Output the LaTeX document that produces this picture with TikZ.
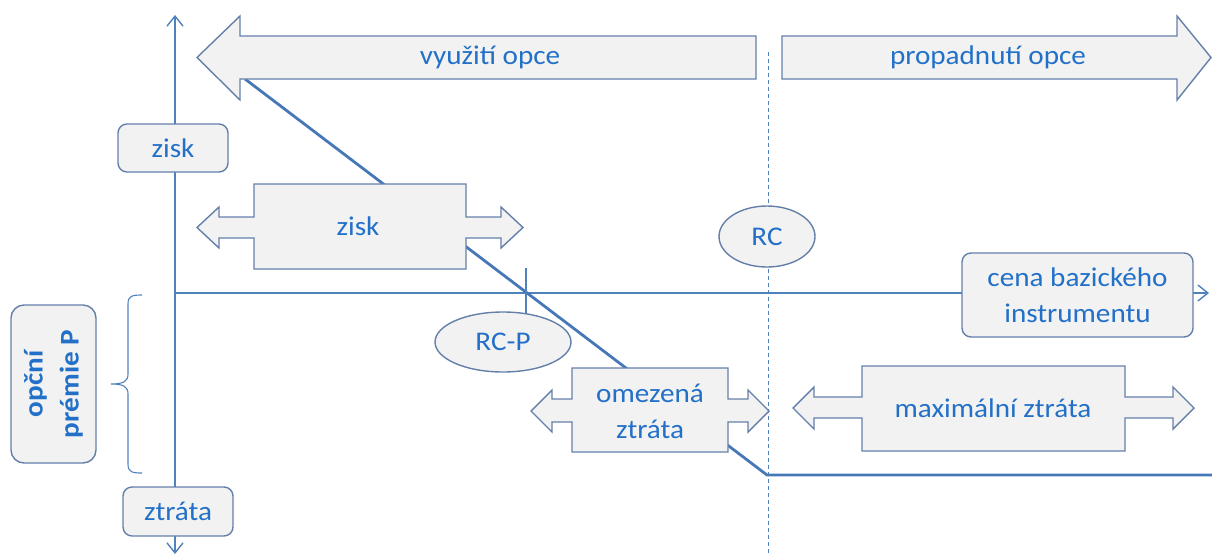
\documentclass[tikz,border=0pt]{standalone}
\usepackage{fontspec}
\setmainfont{Carlito}[FakeStretch=1.08]
\usetikzlibrary{arrows.meta,shapes.geometric}
\definecolor{txtblue}{RGB}{34,112,200}
\definecolor{bord}{RGB}{100,128,170}
\definecolor{boxfill}{RGB}{242,242,242}
\definecolor{axisblue}{RGB}{79,129,189}
\definecolor{payblue}{RGB}{70,120,184}
\begin{document}
\begin{tikzpicture}[x=1pt,y=-1pt,
  shapebox/.style={draw=bord, fill=boxfill, line width=1.4pt, line join=miter},
  lbl/.style={text=txtblue, font=\fontsize{27}{36}\selectfont, align=center, inner sep=0pt},
  rbox/.style={shapebox, rounded corners=9pt, text=txtblue, font=\fontsize{27}{36}\selectfont, align=center, inner sep=0pt},
  oval/.style={shapebox, ellipse, text=txtblue, font=\fontsize{27}{36}\selectfont, inner sep=0pt},
  axisline/.style={draw=axisblue, line width=1.4pt},
  axtip/.style={-{Straight Barb[length=10pt,width=16pt,line width=1.4pt]}},
  payoff/.style={draw=payblue, line width=2.8pt, line join=miter}]
\useasboundingbox (0,0) rectangle (1212,555);

% guide coordinates
\coordinate (vtop) at (175,15);
\coordinate (vbot) at (175,554);
\coordinate (origin) at (175,293);
\coordinate (hend) at (1209,293);
\coordinate (dtop) at (768,52);
\coordinate (dbot) at (768,555);
\coordinate (p1) at (245,79);
\coordinate (p2) at (767,475);
\coordinate (p3) at (1212,475);
\coordinate (tick) at (526,268);

% dashed strike line
\draw[axisblue, line width=1pt, dash pattern=on 4pt off 3pt] (dtop) -- (dbot);
% axes
\draw[axisline, axtip] (origin) -- (vtop);
\draw[axisline, axtip] (origin) -- (vbot);
\draw[axisline, axtip] (origin) -- (hend);
% payoff line
\draw[payoff] (p1) -- (p2) -- (p3);

% top arrows
\draw[shapebox] (756,36) -- (240,36) -- (240,16) -- (197,57.5) -- (240,100) -- (240,79) -- (756,79) -- cycle;
\node[lbl] (vyuziti) at (490,57.5) {využití opce};
\draw[shapebox] (782,36) -- (1177,36) -- (1177,16) -- (1211,57.5) -- (1177,100) -- (1177,79) -- (782,79) -- cycle;
\node[lbl] (propad) at (988,57.5) {propadnutí opce};

% zisk double arrow
\draw[shapebox] (254,184) -- (466,184) -- (466,217) -- (501,217) -- (501,207) -- (523,227.5) -- (501,248) -- (501,238) -- (466,238) -- (466,269) -- (254,269) -- (254,238) -- (219,238) -- (219,248) -- (197,227.5) -- (219,207) -- (219,217) -- (254,217) -- cycle;
\node[lbl] (zisk) at (358,226.5) {zisk};

% omezena ztrata double arrow
\draw[shapebox] (572,368) -- (728,368) -- (728,399) -- (748,399) -- (748,390) -- (769,411) -- (748,432) -- (748,422) -- (728,422) -- (728,452) -- (572,452) -- (572,422) -- (552,422) -- (552,432) -- (531,411) -- (552,390) -- (552,399) -- (572,399) -- cycle;
\node[lbl] (omez) at (650,411) {omezená\\ztráta};

% maximalni ztrata double arrow
\draw[shapebox] (862,366) -- (1125,366) -- (1125,397) -- (1173,397) -- (1173,387) -- (1194,408) -- (1173,429) -- (1173,418) -- (1125,418) -- (1125,451) -- (862,451) -- (862,418) -- (814,418) -- (814,429) -- (793,408) -- (814,387) -- (814,397) -- (862,397) -- cycle;
\node[lbl] (maxz) at (993,408) {maximální ztráta};

% tick to RC-P
\draw[axisline] (tick) -- (tick |- 0,342);

% rounded labels
\node[rbox, minimum width=110pt, minimum height=48pt] (zisklbl) at (173,148) {zisk};
\node[rbox, minimum width=110pt, minimum height=49pt] (ztratalbl) at (178,511.5) {ztráta};
\node[rbox, minimum width=231pt, minimum height=84pt] (cena) at (1077.5,295) {cena bazického\\instrumentu};
\node[rbox, rounded corners=13pt, minimum width=85pt, minimum height=158pt] (premie) at (53.5,384) {};
\node[text=txtblue, font=\bfseries\fontsize{27}{36}\selectfont, align=center, inner sep=0pt, rotate=90] (premietxt) at (premie.center) {opční\\prémie P};

% ellipses
\node[oval, minimum width=96pt, minimum height=61pt] (rc) at (767,236.5) {RC};
\node[oval, minimum width=136pt, minimum height=60pt] (rcp) at (503,342) {RC-P};

% brace
\draw[axisline, line width=1.1pt] (142,295) .. controls (132,295) and (128,296) .. (128,304)
  -- (128,374) .. controls (128,381) and (124,384) .. (111,384)
  .. controls (124,384) and (128,387) .. (128,394)
  -- (128,464) .. controls (128,472) and (132,473) .. (142,473);
\end{tikzpicture}
\end{document}
